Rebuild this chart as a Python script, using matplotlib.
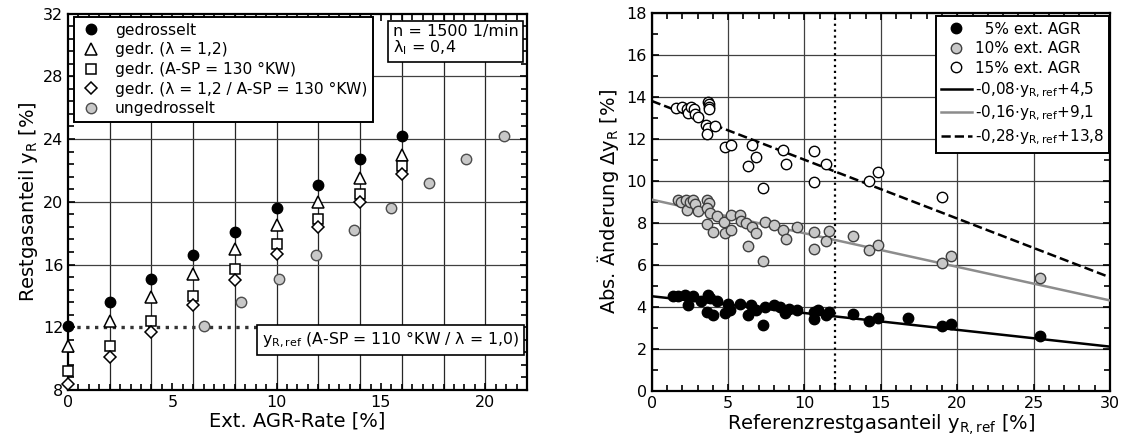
import matplotlib
matplotlib.use("Agg")
import matplotlib.pyplot as plt
import numpy as np
from matplotlib.ticker import MultipleLocator

plt.rcParams['font.family'] = ['DejaVu Sans']
plt.rcParams['mathtext.fontset'] = 'dejavusans'

# ---- left plot data: residual gas vs. ext. EGR rate
agr = [0, 2, 4, 6, 8, 10, 12, 14, 16]
y_gedr = [12.1, 13.6, 15.1, 16.6, 18.1, 19.6, 21.1, 22.7, 24.2]
y_lam = [10.8, 12.4, 13.9, 15.4, 17.0, 18.5, 20.0, 21.5, 23.0]
y_asp = [9.2, 10.8, 12.4, 14.0, 15.7, 17.3, 18.9, 20.5, 22.3]
y_lam_asp = [8.4, 10.1, 11.7, 13.4, 15.0, 16.7, 18.4, 20.0, 21.8]
agr_ungedr = [6.5, 8.3, 10.1, 11.9, 13.7, 15.5, 17.3, 19.1, 20.9]
y_ungedr = [12.1, 13.6, 15.1, 16.6, 18.2, 19.6, 21.2, 22.7, 24.2]
y_ref = 12.0

# ---- right plot data: abs. change vs. reference residual gas
x5 = [1.4, 1.75, 2.2, 2.4, 2.7, 3.2, 3.6, 3.7, 3.8, 4.0, 4.3, 4.8, 5.0, 5.1,
      5.8, 6.3, 6.5, 6.8, 7.3, 7.4, 8.0, 8.4, 8.7, 9.0, 9.5, 10.6, 10.6, 10.9,
      11.4, 11.6, 13.2, 14.2, 14.8, 16.8, 19.0, 19.6, 25.4]
d5 = [4.5, 4.5, 4.55, 4.1, 4.5, 4.25, 3.75, 4.55, 4.4, 3.6, 4.25, 3.7, 4.15, 3.85,
      4.15, 3.6, 4.1, 3.85, 3.15, 4.0, 4.1, 4.0, 3.7, 3.9, 3.85, 3.75, 3.4, 3.85,
      3.6, 3.75, 3.65, 3.3, 3.45, 3.45, 3.1, 3.2, 2.6]

x10 = [1.7, 1.9, 2.25, 2.3, 2.5, 2.7, 2.8, 3.0, 3.65, 3.75, 3.6, 3.8, 3.6, 4.0,
       4.25, 4.7, 4.8, 5.2, 5.2, 5.8, 5.85, 6.15, 6.3, 6.55, 6.8, 7.3, 7.4, 8.0,
       8.6, 8.8, 9.5, 10.6, 10.6, 11.4, 11.6, 13.2, 14.2, 14.8, 19.0, 19.6, 25.4]
d10 = [9.1, 9.0, 9.1, 8.6, 9.0, 9.1, 8.9, 8.55, 9.1, 8.95, 8.7, 8.45, 7.95, 7.55,
       8.3, 8.05, 7.5, 7.65, 8.35, 8.35, 8.1, 8.0, 6.9, 7.8, 7.5, 6.2, 8.05, 7.9,
       7.65, 7.25, 7.8, 7.55, 6.75, 7.15, 7.6, 7.35, 6.7, 6.95, 6.1, 6.4, 5.35]

x15 = [1.6, 1.95, 2.3, 2.4, 2.6, 2.75, 2.85, 3.05, 3.7, 3.75, 3.75, 3.75, 3.55,
       3.7, 3.6, 4.15, 4.8, 5.2, 6.3, 6.55, 6.8, 7.3, 8.6, 8.8, 10.6, 10.6, 11.4,
       14.2, 14.8, 19.0]
d15 = [13.45, 13.5, 13.4, 13.25, 13.5, 13.4, 13.2, 13.05, 13.75, 13.65, 13.5,
       13.4, 12.65, 12.5, 12.25, 12.6, 11.6, 11.7, 10.7, 11.7, 11.15, 9.65, 11.45,
       10.8, 11.4, 9.95, 10.8, 10.0, 10.4, 9.25]

fits = [(-0.08, 4.5), (-0.16, 9.1), (-0.28, 13.8)]
fit_labels = [r'-0,08$\cdot$y$_\mathrm{R,ref}$+4,5',
              r'-0,16$\cdot$y$_\mathrm{R,ref}$+9,1',
              r'-0,28$\cdot$y$_\mathrm{R,ref}$+13,8']

gray = '#c8c8c8'

fig = plt.figure(figsize=(11.26, 4.41), dpi=100)
ax1 = fig.add_axes([0.0604, 0.1156, 0.4076, 0.8537])
ax2 = fig.add_axes([0.5788, 0.114, 0.4070, 0.857])


def style_axes(ax):
    for s in ax.spines.values():
        s.set_linewidth(1.6)
    ax.tick_params(which='both', direction='in', top=True, right=True,
                   width=1.2, labelsize=11.5)
    ax.tick_params(which='major', length=5)
    ax.tick_params(which='minor', length=4)


# ---------------- left
style_axes(ax1)
ax1.set_xlim(0, 22)
ax1.set_ylim(8, 32)
ax1.xaxis.set_major_locator(MultipleLocator(5))
ax1.xaxis.set_minor_locator(MultipleLocator(0.5))
ax1.yaxis.set_major_locator(MultipleLocator(4))
ax1.yaxis.set_minor_locator(MultipleLocator(0.8))
ax1.vlines(np.arange(2, 22, 2), 8, 32, colors='0.15', lw=0.9, zorder=1)
ax1.hlines(np.arange(16, 32, 4), 0, 22, colors='0.25', lw=0.9, zorder=1)
ax1.axhline(y_ref, color='0.2', lw=2.4, ls=':', zorder=2)

ms = 7.5
ax1.plot(agr, y_gedr, 'o', ms=ms, mfc='black', mec='black', ls='none',
         label='gedrosselt', zorder=5, clip_on=False)
ax1.plot(agr, y_lam, '^', ms=ms + 1, mfc='white', mec='black', mew=1.1, ls='none',
         label='gedr. (λ = 1,2)', zorder=5, clip_on=False)
ax1.plot(agr, y_asp, 's', ms=ms - 1, mfc='white', mec='black', mew=1.1, ls='none',
         label='gedr. (A-SP = 130 °KW)', zorder=5, clip_on=False)
ax1.plot(agr, y_lam_asp, 'D', ms=ms - 1.5, mfc='white', mec='black', mew=1.1, ls='none',
         label='gedr. (λ = 1,2 / A-SP = 130 °KW)', zorder=5, clip_on=False)
ax1.plot(agr_ungedr, y_ungedr, 'o', ms=ms, mfc=gray, mec='0.3', mew=1.0, ls='none',
         label='ungedrosselt', zorder=5)

leg1 = ax1.legend(loc='upper left', bbox_to_anchor=(0.012, 0.99), borderaxespad=0,
                  fontsize=11.2, fancybox=False, framealpha=1, edgecolor='black',
                  handletextpad=0.8, labelspacing=0.3, borderpad=0.35,
                  handlelength=1.5)
leg1.get_frame().set_linewidth(1.4)
leg1.set_zorder(10)

ax1.text(0.708, 0.972, 'n = 1500 1/min\nλ$_\\mathrm{l}$ = 0,4', transform=ax1.transAxes,
         ha='left', va='top', fontsize=11.5, linespacing=0.95, zorder=10,
         bbox=dict(boxstyle='square,pad=0.3', fc='white', ec='black', lw=1.2))
ax1.text(0.983, 0.133, 'y$_\\mathrm{R,ref}$ (A-SP = 110 °KW / λ = 1,0)',
         transform=ax1.transAxes, ha='right', va='center', fontsize=11.3, zorder=10,
         bbox=dict(boxstyle='square,pad=0.3', fc='white', ec='black', lw=1.2))

ax1.set_xlabel('Ext. AGR-Rate [%]', fontsize=14, labelpad=1)
ax1.set_ylabel('Restgasanteil y$_\\mathrm{R}$ [%]', fontsize=14, labelpad=2)

# ---------------- right
style_axes(ax2)
ax2.set_xlim(0, 30)
ax2.set_ylim(0, 18)
ax2.xaxis.set_major_locator(MultipleLocator(5))
ax2.xaxis.set_minor_locator(MultipleLocator(1))
ax2.yaxis.set_major_locator(MultipleLocator(2))
ax2.yaxis.set_minor_locator(MultipleLocator(1))
ax2.grid(True, which='major', color='0.25', lw=0.9, zorder=0)
ax2.set_axisbelow(True)
ax2.axvline(y_ref, color='black', lw=1.6, ls=':', zorder=2)

ax2.plot(x5, d5, 'o', ms=ms, mfc='black', mec='black', ls='none',
         label='  5% ext. AGR', zorder=4)
ax2.plot(x10, d10, 'o', ms=ms, mfc=gray, mec='0.25', mew=1.0, ls='none',
         label='10% ext. AGR', zorder=4)
ax2.plot(x15, d15, 'o', ms=ms, mfc='white', mec='black', mew=1.0, ls='none',
         label='15% ext. AGR', zorder=4)

xf = np.linspace(0, 30, 50)
fit_styles = [dict(color='black', ls='-'), dict(color='0.55', ls='-'),
              dict(color='black', ls='--')]
for (m, b), lab, st in zip(fits, fit_labels, fit_styles):
    ax2.plot(xf, m * xf + b, lw=1.8, label=lab, zorder=3, **st)

leg2 = ax2.legend(loc='upper right', bbox_to_anchor=(0.998, 0.991), borderaxespad=0,
                  fontsize=11, fancybox=False, framealpha=1, edgecolor='black',
                  handletextpad=0.2, labelspacing=0.3, borderpad=0.35,
                  handlelength=2.0)
leg2.get_frame().set_linewidth(1.4)
leg2.set_zorder(10)

ax2.set_xlabel('Referenzrestgasanteil y$_\\mathrm{R,ref}$ [%]', fontsize=14, labelpad=1)
ax2.set_ylabel('Abs. Änderung Δy$_\\mathrm{R}$ [%]', fontsize=14, labelpad=4)

fig.savefig('out.png', dpi=100)
